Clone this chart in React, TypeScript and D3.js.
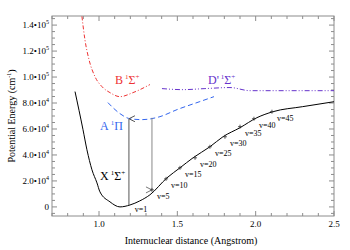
import React from "react";
import * as d3 from "d3";

// ground state X 1Sigma+ (r in Angstrom, E in cm-1)
const xR = [0.847, 0.898, 0.923, 0.955, 0.987, 1.006, 1.07, 1.134, 1.198, 1.26, 1.325, 1.434, 1.517, 1.6, 1.708, 1.791, 1.9, 2.008, 2.11, 2.3, 2.5];
const xE = [88800, 59400, 44000, 28600, 18500, 11600, 3900, 0, 1500, 4600, 9300, 22400, 30100, 37800, 46300, 54000, 61000, 68700, 73300, 77200, 81000];

// A 1Pi
const aR = [1.057, 1.134, 1.198, 1.274, 1.389, 1.498, 1.644, 1.734];
const aE = [80300, 71800, 67900, 67200, 69500, 74900, 81100, 84900];

// B 1Sigma+
const bR = [0.891, 0.91, 0.936, 0.974, 1.019, 1.07, 1.134, 1.217, 1.325];
const bE = [146700, 128900, 113500, 100400, 92600, 88000, 84900, 88000, 94200];

// D' 1Sigma+
const dR = [1.402, 1.536, 1.676, 1.836, 1.964, 2.219, 2.5];
const dE = [91100, 90300, 91100, 91900, 89500, 89500, 89500];

// vibrational levels on X
const vLabels = ["v=5", "v=10", "v=15", "v=20", "v=25", "v=30", "v=35", "v=40", "v=45"];
const vR = [1.338, 1.428, 1.517, 1.613, 1.708, 1.804, 1.9, 1.989, 2.104];
const vE = [13100, 21600, 30100, 37800, 46300, 54000, 61800, 67900, 73300];
const v1 = { label: "v=1", r: 1.19, e: 1500 };

// transitions
const absorb = { r: 1.191, from: 1500, to: 67900 };
const emit = { r: 1.338, from: 68600, to: 13100 };

const xTicks = [1.0, 1.5, 2.0, 2.5];
const yTicks = [0, 20000, 40000, 60000, 80000, 100000, 120000, 140000];

const W = 350;
const H = 250;
const m = { left: 52, right: 16, top: 16, bottom: 34 };
const font = '"Times New Roman", Times, "Liberation Serif", serif';

const App = () => {
  const x = d3.scaleLinear().domain([0.7, 2.5]).range([m.left, W - m.right]);
  const y = d3.scaleLinear().domain([-7000, 147000]).range([H - m.bottom, m.top]);

  const mk = (rs: number[], es: number[]) =>
    d3
      .line<number>()
      .x((d) => x(rs[d]))
      .y((d) => y(es[d]))
      .curve(d3.curveMonotoneX)(d3.range(rs.length)) as string;

  const x0 = x.range()[0];
  const x1 = x.range()[1];
  const y0 = y.range()[0];
  const y1 = y.range()[1];
  const frame = "#8c8c8c";

  const xMinor = d3.range(0.7, 2.501, 0.1);
  const yMinor = d3.range(-5000, 147001, 5000);

  const fmtY = (v: number) => {
    if (v === 0) return <tspan>0</tspan>;
    const ex = Math.floor(Math.log10(v));
    const mant = (v / Math.pow(10, ex)).toFixed(1);
    return (
      <>
        <tspan>{mant}•10</tspan>
        <tspan fontSize={6} dy={-4}>{ex}</tspan>
      </>
    );
  };

  const state = (txt: string, pre: string, post: string, px: number, py: number, color: string) => (
    <text x={px} y={py} fill={color} fontSize={12}>
      {txt}
      <tspan fontSize={7} dy={-5} dx={2}>{pre}</tspan>
      <tspan dy={5}>Σ</tspan>
      {post && <tspan fontSize={7} dy={-5}>{post}</tspan>}
    </text>
  );

  return (
    <svg width={W} height={H} fontFamily={font} style={{ position: "absolute", left: 0, top: 0, background: "#fff" }}>
      <defs>
        <marker id="headUp" viewBox="-4 0 8 8" refX={0} refY={0} markerWidth={8} markerHeight={8} orient="auto-start-reverse" markerUnits="userSpaceOnUse">
          <path d="M-3,6 L0,0 L3,6" fill="none" stroke="#555" strokeWidth={1} />
        </marker>
        <marker id="headDown" viewBox="-4 0 8 8" refX={0} refY={0} markerWidth={8} markerHeight={8} orient="auto-start-reverse" markerUnits="userSpaceOnUse">
          <path d="M-3,6 L0,0 L3,6" fill="none" stroke="#777" strokeWidth={1} />
        </marker>
      </defs>

      {/* frame and ticks */}
      <rect x={x0} y={y1} width={x1 - x0} height={y0 - y1} fill="none" stroke={frame} strokeWidth={1} />
      {xMinor.map((t, i) => {
        const major = xTicks.some((k) => Math.abs(k - t) < 1e-6);
        const len = major ? 5 : 3;
        return (
          <g key={"xm" + i} stroke={frame}>
            <line x1={x(t)} x2={x(t)} y1={y0} y2={y0 - len} />
            <line x1={x(t)} x2={x(t)} y1={y1} y2={y1 + len} />
          </g>
        );
      })}
      {yMinor.map((t, i) => {
        const major = yTicks.includes(t);
        const len = major ? 5 : 3;
        return (
          <g key={"ym" + i} stroke={frame}>
            <line x1={x0} x2={x0 + len} y1={y(t)} y2={y(t)} />
            <line x1={x1} x2={x1 - len} y1={y(t)} y2={y(t)} />
          </g>
        );
      })}
      {xTicks.map((t) => (
        <text key={"xt" + t} x={x(t)} y={y0 + 11} textAnchor="middle" fontSize={9}>
          {t.toFixed(1)}
        </text>
      ))}
      {yTicks.map((t) => (
        <text key={"yt" + t} x={x0 - 3} y={y(t) + 3} textAnchor="end" fontSize={9}>
          {fmtY(t)}
        </text>
      ))}
      <text x={(x0 + x1) / 2 - 2} y={H - 6} textAnchor="middle" fontSize={10}>
        Internuclear distance (Angstrom)
      </text>
      <text transform={`translate(15,${(y0 + y1) / 2}) rotate(-90)`} textAnchor="middle" fontSize={10}>
        Potential Energy (cm<tspan fontSize={6} dy={-4}>-1</tspan><tspan dy={4}>)</tspan>
      </text>

      {/* curves */}
      <path d={mk(bR, bE)} fill="none" stroke="#ee3333" strokeWidth={1} strokeDasharray="4,2,1,2" />
      <path d={mk(dR, dE)} fill="none" stroke="#6633cc" strokeWidth={1} strokeDasharray="5,2,1,2,1,2" />
      <path d={mk(aR, aE)} fill="none" stroke="#3366ee" strokeWidth={1} strokeDasharray="5,3" />
      <path d={mk(xR, xE)} fill="none" stroke="#000" strokeWidth={1} />

      {/* transitions */}
      <line x1={x(absorb.r)} x2={x(absorb.r)} y1={y(absorb.from)} y2={y(absorb.to)} stroke="#555" strokeWidth={1} markerEnd="url(#headUp)" />
      <line x1={x(emit.r)} x2={x(emit.r)} y1={y(emit.from)} y2={y(emit.to)} stroke="#888" strokeWidth={1} markerEnd="url(#headDown)" />

      {/* vibrational levels */}
      {vR.map((r, i) => (
        <g key={"v" + i}>
          <path d={`M${x(r) - 2},${y(vE[i])}h4M${x(r)},${y(vE[i]) - 2}v4`} stroke="#333" strokeWidth={0.8} />
          <text x={x(r) + 5} y={y(vE[i]) + 9} fontSize={8}>
            {vLabels[i]}
          </text>
        </g>
      ))}
      <text x={x(v1.r) + 6} y={y(v1.e) + 7} fontSize={8}>
        {v1.label}
      </text>

      {/* state labels */}
      {state("X", "1", "+", 100, 180, "#000")}
      {state("B", "1", "+", 115, 84, "#ee3333")}
      {state("D'", "1", "+", 208, 84, "#6633cc")}
      <text x={100} y={130} fill="#3366ee" fontSize={12}>
        A<tspan fontSize={7} dy={-5} dx={2}>1</tspan>
        <tspan dy={5}>Π</tspan>
      </text>
    </svg>
  );
};

export default App;
